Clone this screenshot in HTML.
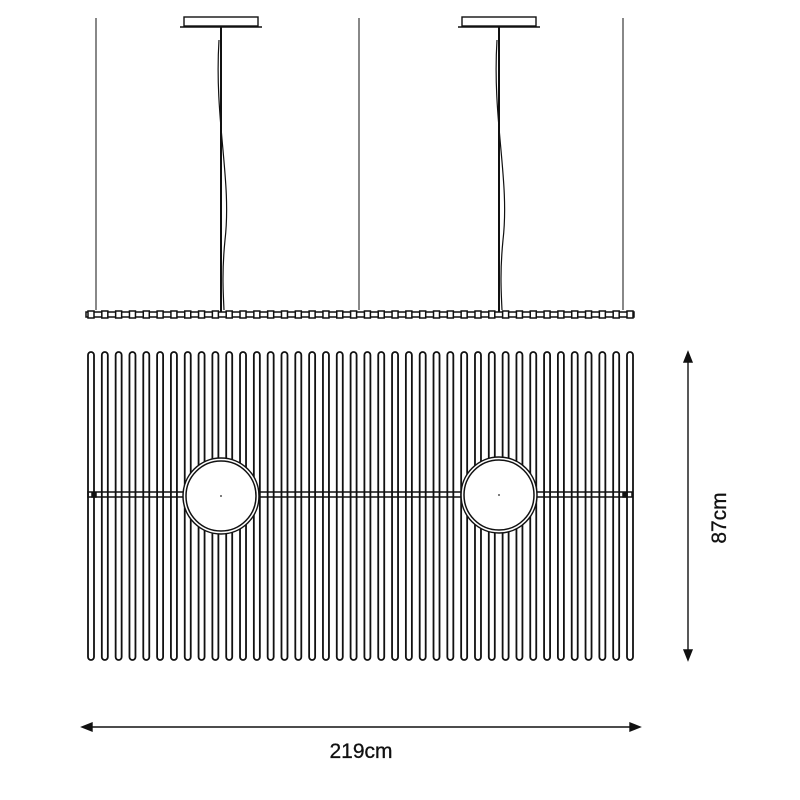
<!DOCTYPE html>
<html><head><meta charset="utf-8"><style>
html,body{margin:0;padding:0;background:#fff;width:800px;height:800px;overflow:hidden}
svg{display:block}
text{font-family:"Liberation Sans","DejaVu Sans",sans-serif;fill:#111}
</style></head><body>
<svg id="s" width="800" height="800" viewBox="0 0 800 800" xmlns="http://www.w3.org/2000/svg">
<g stroke="#111" fill="none">
<line x1="96" y1="18" x2="96" y2="310" stroke-width="1"/>
<line x1="359" y1="18" x2="359" y2="310" stroke-width="1"/>
<line x1="623" y1="18" x2="623" y2="310" stroke-width="1"/>
<rect x="184" y="17" width="74" height="9" stroke-width="1.4"/>
<line x1="180" y1="27" x2="262" y2="27" stroke-width="1.4"/>
<rect x="462" y="17" width="74" height="9" stroke-width="1.4"/>
<line x1="458" y1="27" x2="540" y2="27" stroke-width="1.4"/>
<line x1="221" y1="27" x2="221" y2="312" stroke-width="2"/>
<line x1="499" y1="27" x2="499" y2="312" stroke-width="2"/>
<path d="M219 40 C214 120 232 180 225 240 C222 270 223 290 224 310" stroke-width="1.2"/>
<path d="M497 40 C492 120 510 180 503 240 C500 270 501 290 502 310" stroke-width="1.2"/>
<rect x="86" y="312" width="548" height="5" stroke-width="1.5"/>
</g>
<g id="beads" stroke="#111" fill="#fff" stroke-width="1.5"></g>
<g stroke="#111" fill="#fff" stroke-width="1.5">
<rect x="88" y="492" width="544" height="5"/>
</g>
<g id="tubes" stroke="#111" fill="none" stroke-width="1.8"></g>
<g stroke="#111" fill="#fff" stroke-width="1.5">
<circle cx="221" cy="496" r="38"/>
<circle cx="221" cy="496" r="35"/>
<circle cx="499" cy="495" r="38"/>
<circle cx="499" cy="495" r="35"/>
<rect x="92" y="493" width="4" height="4" fill="#111"/>
<rect x="623" y="493" width="4" height="4" fill="#111"/>
</g>
<circle cx="221" cy="496" r="1" fill="#555"/>
<circle cx="499" cy="495" r="1" fill="#555"/>
<g stroke="#111" stroke-width="1.4" fill="#111">
<line x1="688" y1="356" x2="688" y2="656"/>
<path d="M684 362 L688 352 L692 362 Z"/>
<path d="M684 650 L688 660 L692 650 Z"/>
<line x1="86" y1="727" x2="636" y2="727"/>
<path d="M92 723 L82 727 L92 731 Z"/>
<path d="M630 723 L640 727 L630 731 Z"/>
</g>
<text x="361" y="758" font-size="21" text-anchor="middle" stroke="#111" stroke-width="0.3">219cm</text>
<text transform="translate(726,518) rotate(-90)" font-size="21" text-anchor="middle" stroke="#111" stroke-width="0.3">87cm</text>
</svg>
<script>
var ns="http://www.w3.org/2000/svg";
var t=document.getElementById("tubes"),b=document.getElementById("beads");
for(var i=0;i<40;i++){
 var cx=91+i*(539/39);
 var r=document.createElementNS(ns,"rect");
 r.setAttribute("x",cx-3);r.setAttribute("y",352);r.setAttribute("width",6);r.setAttribute("height",308);r.setAttribute("rx",3);
 t.appendChild(r);
 var q=document.createElementNS(ns,"rect");
 q.setAttribute("x",cx-3);q.setAttribute("y",311);q.setAttribute("width",6);q.setAttribute("height",7);
 b.appendChild(q);
}
</script>
</body></html>
